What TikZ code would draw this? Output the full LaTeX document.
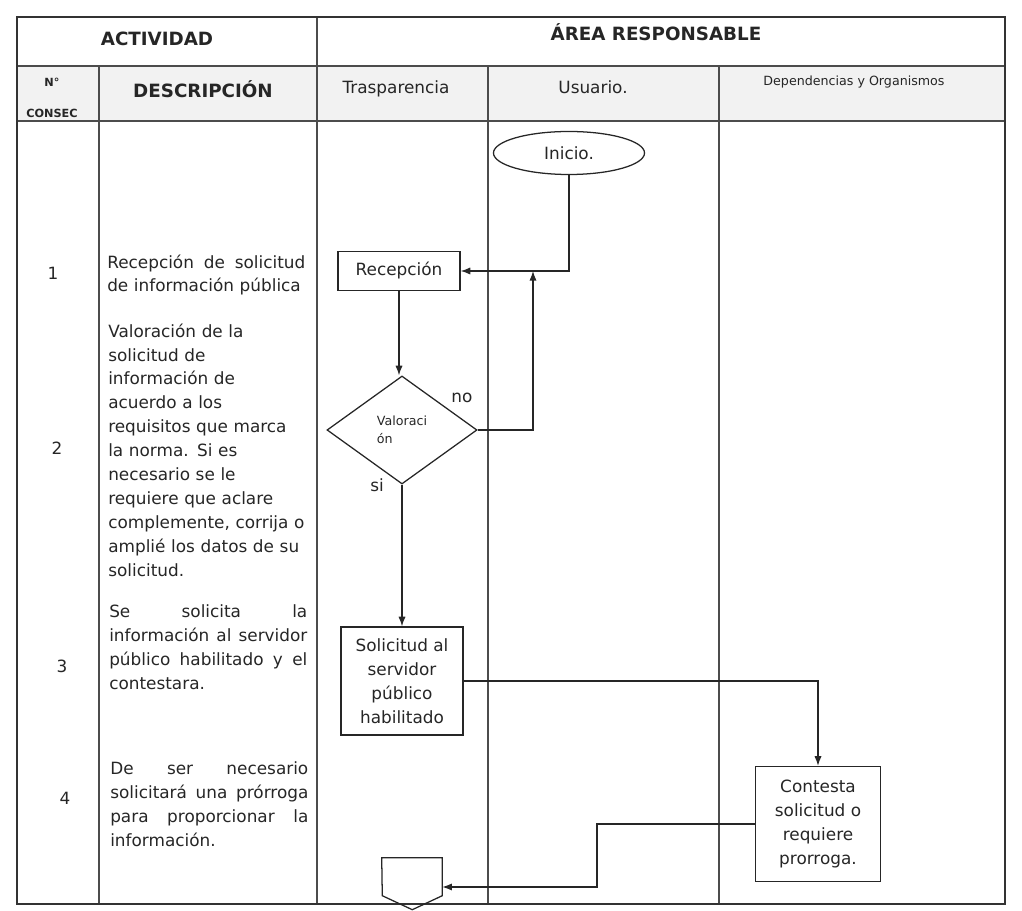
\documentclass[tikz,border=0pt]{standalone}
\usepackage{fontspec}
\setmainfont{DejaVu Sans}
\usetikzlibrary{arrows.meta,shapes.geometric}

\tikzset{
	caja/.style={draw=black!85, line width=0.9pt, align=center, inner sep=0pt, font=\fontsize{12}{17}\selectfont},
	flecha/.style={draw=black!85, line width=0.9pt, -{Latex[length=2.4mm,width=1.8mm]}},
	linea/.style={draw=black!70, line width=0.8pt},
	desc/.style={text width=4.95cm, align=left, inner sep=0pt, anchor=west, font=\fontsize{12}{17}\selectfont},
	titulo/.style={font=\fontsize{13}{15}\selectfont\bfseries},
	cabeza/.style={font=\fontsize{12}{14}\selectfont},
	numero/.style={font=\fontsize{12}{14}\selectfont},
}

\begin{document}
\begin{tikzpicture}[x=0.025cm, y=-0.025cm, text=black!85]
	%%%%% START %%%%%
	\useasboundingbox (0,0) rectangle (1022,911);
	
	% tabla
	\fill[black!5] (17,66) rectangle (1005,121);
	\draw[linea] (17,66) -- (1005,66);
	\draw[linea] (17,121) -- (1005,121);
	\draw[linea] (99,66) -- (99,904);
	\draw[linea] (317,17) -- (317,904);
	\draw[linea] (488,66) -- (488,904);
	\draw[linea] (719,66) -- (719,904);
	\draw[line width=1.4pt, black!80] (17,17) rectangle (1005,904);
	
	\node[titulo] (act) at (157,39) {ACTIVIDAD};
	\node[titulo] (area) at (656,32) {ÁREA RESPONSABLE};
	\node[font=\fontsize{8}{9}\selectfont\bfseries] (num) at (52,82) {N°};
	\node[font=\fontsize{8}{9}\selectfont\bfseries] (consec) at (52,113) {CONSEC};
	\node[titulo] (descr) at (203,89) {DESCRIPCIÓN};
	\node[cabeza] (trasp) at (396,89) {Trasparencia};
	\node[cabeza] (usu) at (593,87) {Usuario.};
	\node[font=\fontsize{9}{11}\selectfont] (dep) at (854,82) {Dependencias y Organismos};
	
	% actividades
	\node[numero] (n1) at (53,273) {1};
	\node[numero] (n2) at (57,448) {2};
	\node[numero] (n3) at (62,666) {3};
	\node[numero] (n4) at (65,798) {4};
	
	\node[desc] (d1) at (107,275) {Recepción\hfill de\hfill solicitud\\de información pública};
	\node[desc] (d2) at (108,450) {Valoración de la\\solicitud de\\información de\\acuerdo a los\\requisitos que marca\\la norma. Si es\\necesario se le\\requiere que aclare\\complemente, corrija o\\amplié los datos de su\\solicitud.};
	\node[desc] (d3) at (109,647) {Se\hfill solicita\hfill la\\información\hfill al\hfill servidor\\público\hfill habilitado\hfill y\hfill el\\contestara.};
	\node[desc] (d4) at (110,804) {De\hfill ser\hfill necesario\\solicitará\hfill una\hfill prórroga\\para\hfill proporcionar\hfill la\\información.};
	
	% diagrama
	\node[caja, ellipse, minimum width=3.775cm, minimum height=1.075cm] (ini) at (569,153) {Inicio.};
	\node[caja, minimum width=3.05cm, minimum height=0.975cm] (rec) at (399,271) {Recepción};
	\node[caja, diamond, align=left, minimum width=3.75cm, minimum height=2.7cm, font=\fontsize{9}{13}\selectfont] (val) at (402,430) {Valoraci\\ón};
	\node[caja, minimum width=3.05cm, minimum height=2.7cm] (sol) at (402,681) {Solicitud al\\servidor\\público\\habilitado};
	\node[caja, minimum width=3.125cm, minimum height=2.875cm] (con) at (818,824) {Contesta\\solicitud o\\requiere\\prorroga.};
	\node[minimum width=1.5cm, minimum height=1.45cm, inner sep=0pt] (fin) at (412,887) {};
	\draw[draw=black!85, line width=0.9pt] (fin.north west) -- (fin.north east) -- ++(0,38) -- ++(-30,14) -- ++(-30,-14) -- cycle;
	
	\node[numero] (no) at (462,398) {no};
	\node[numero] (si) at (377,485) {si};
	
	\coordinate (sube) at (533,271);
	\coordinate (baja) at (597,887);
	
	\draw[flecha] (ini.south) |- (rec.east);
	\draw[flecha] (rec.south) -- (rec.south |- val.north);
	\draw[flecha] (val.east) -| (sube);
	\draw[flecha] (val.south) -- (sol.north);
	\draw[flecha] (sol.east) -| (con.north);
	\draw[flecha] (con.west) -| (baja) -- (fin.east);
	
	%%%%% END %%%%%
\end{tikzpicture}
\end{document}
